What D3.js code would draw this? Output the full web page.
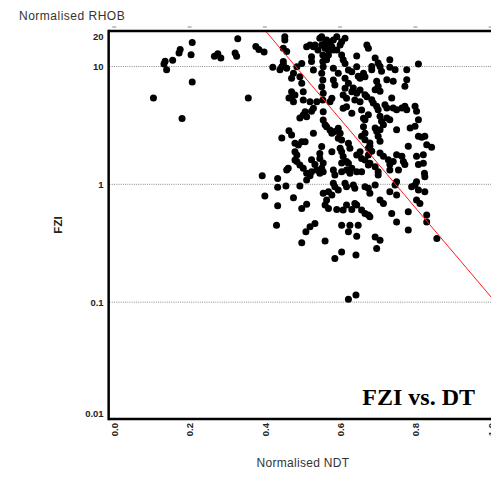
<!DOCTYPE html>
<html>
<head>
<meta charset="utf-8">
<script src="https://cdn.jsdelivr.net/npm/d3@7"></script>
<style>
  html, body { margin: 0; padding: 0; background: #fff; overflow: hidden; }
  svg { display: block; }
</style>
</head>
<body>
<svg id="chart" width="491" height="481"></svg>
<script>
// ---------------- data ----------------
const xTickValues = [0.0, 0.2, 0.4, 0.6, 0.8, 1.0];
const xTickLabels = ["0.0", "0.2", "0.4", "0.6", "0.8", "1.0"];
const yTickValues = [20, 10, 1, 0.1, 0.01];
const yTickLabels = ["20", "10", "1", "0.1", "0.01"];
const yGridValues = [10, 1, 0.1];

// Normalised NDT (x) and FZI (y) of each sample
const ndt = [
  0.207,0.328,0.175,0.172,0.204,0.155,0.135,0.132,0.139,0.275,0.283,0.266,0.321,0.325,0.376,0.384,0.398,0.421,0.440,0.449,
  0.207,0.104,0.356,0.180,0.445,0.464,0.464,
  0.453,0.453,0.449,0.458,0.449,0.445,0.458,0.476,0.471,0.471,0.480,0.471,0.498,0.493,0.498,0.502,0.511,0.520,0.529,0.533,
  0.524,0.524,0.529,0.546,0.551,0.564,0.573,0.582,0.578,0.569,0.582,0.604,0.600,0.554,0.554,0.555,0.551,0.554,0.551,0.555,
  0.554,0.569,0.564,0.604,0.608,0.613,0.582,0.595,0.582,0.586,0.622,0.631,0.644,0.653,0.613,0.622,0.613,0.608,0.617,0.631,
  0.644,0.653,0.639,0.653,0.671,0.675,0.662,0.666,0.671,0.578,0.573,0.538,0.502,0.644,0.560,0.551,0.591,0.613,
  0.560,0.591,0.541,0.485,
  0.693,0.701,0.732,0.808,0.684,0.684,0.706,0.710,0.732,0.746,0.777,0.777,0.772,0.724,0.741,0.697,0.701,0.693,0.706,0.684,
  0.688,0.697,0.701,0.719,0.724,0.737,0.741,0.750,0.764,0.772,0.777,0.799,0.803,0.635,0.648,0.666,
  0.476,0.520,0.529,0.507,0.502,0.511,0.555,0.555,0.608,0.617,0.631,0.657,0.662,0.662,0.666,0.564,0.573,0.578,0.586,0.595,
  0.600,0.595,0.604,0.529,0.471,0.480,0.489,0.498,0.507,0.480,0.485,0.480,0.485,0.458,0.462,0.551,0.546,0.546,0.578,0.600,
  0.604,0.622,0.626,0.608,0.617,0.644,0.653,0.657,0.666,0.675,0.675,0.493,0.502,0.511,0.524,0.538,0.551,0.555,0.582,0.604,
  0.617,0.631,0.657,0.679,0.524,0.533,0.604,0.524,0.493,0.560,0.555,
  0.666,0.675,0.706,0.710,0.715,0.724,0.732,0.750,0.786,0.799,0.693,0.697,0.706,0.808,0.657,0.666,0.679,0.701,0.706,0.808,
  0.817,0.825,0.830,0.843,0.781,0.679,0.684,0.706,0.715,0.728,0.732,0.750,0.764,0.772,0.803,0.808,0.821,
  0.393,0.400,0.434,0.434,0.456,0.434,0.431,0.520,0.511,0.493,0.476,0.511,0.498,0.533,0.520,0.509,0.498,0.546,0.586,0.626,
  0.622,0.582,0.586,0.595,0.555,0.569,0.578,0.564,0.560,0.569,0.613,0.617,0.635,0.639,0.666,0.591,0.608,0.617,0.631,0.639,
  0.657,0.666,0.675,0.604,0.626,0.648,0.622,0.644,0.560,0.604,0.586,0.642,0.622,0.642,0.675,
  0.693,0.701,0.701,0.741,0.732,0.755,0.768,0.821,0.824,0.825,0.644,0.675,0.693,0.679,0.750,0.746,0.732,0.750,0.790,0.799,
  0.803,0.808,0.825,0.644,0.706,0.715,0.803,0.812,0.781,0.737,0.679,0.750,0.830,0.830,0.781,0.693,0.706,0.857,0.697
];
const fzi = [
  16.0,17.2,13.9,13.0,12.6,11.3,11.1,10.5,9.39,12.8,11.8,12.2,13.0,12.2,14.8,13.9,13.3,9.84,9.39,10.4,
  7.39,5.40,5.40,3.61,2.47,5.40,2.85,
  17.9,16.8,14.3,13.4,11.0,9.96,9.65,8.76,7.94,6.11,5.73,5.37,10.6,8.19,7.20,6.11,14.7,15.2,14.7,15.2,
  12.1,11.0,9.34,17.4,15.2,16.8,15.7,16.8,14.7,13.8,13.8,16.2,15.2,12.5,11.0,9.96,8.76,7.68,6.74,5.92,
  5.20,12.5,11.4,12.5,11.4,10.6,9.65,8.76,7.68,6.97,9.34,9.03,9.96,7.94,7.94,7.20,6.53,5.73,5.37,6.11,
  5.92,6.32,5.20,5.02,15.2,14.3,8.76,8.19,5.54,5.37,5.02,5.02,5.20,12.3,14.3,17.9,17.9,17.4,
  15.8,13.8,13.8,9.96,
  11.8,10.7,11.4,10.5,10.0,9.39,10.0,9.11,9.84,9.39,9.39,7.73,6.79,7.73,7.49,7.49,6.79,6.36,6.16,5.23,
  4.90,4.59,4.30,4.74,4.44,5.40,4.44,4.30,4.44,4.59,4.30,4.59,4.17,6.57,8.26,5.76,
  5.02,5.02,4.42,4.13,3.88,3.75,4.13,3.52,4.42,4.56,4.01,4.27,3.63,3.08,2.71,3.08,2.89,2.71,2.80,2.99,
  2.71,2.46,2.38,2.71,2.62,2.23,2.16,2.30,2.30,1.89,1.77,1.61,1.56,1.32,1.37,2.09,1.83,1.66,1.89,2.02,
  1.89,2.23,2.02,1.72,1.56,1.77,1.89,1.66,1.61,1.77,2.02,1.46,1.37,1.24,1.28,1.32,1.37,1.28,1.32,1.28,
  1.32,1.37,1.28,1.51,1.62,1.47,1.52,4.17,3.65,3.21,1.52,
  3.53,3.90,3.78,3.43,3.21,3.65,3.53,2.91,3.01,3.11,3.01,2.82,2.91,3.53,2.56,2.39,2.24,2.56,2.32,2.56,
  2.51,2.56,2.17,2.06,2.10,2.10,1.91,1.84,1.73,1.62,1.47,1.78,1.73,1.47,1.73,1.47,1.78,
  1.18,0.796,1.12,0.943,0.967,0.657,0.450,1.18,1.09,0.967,0.770,0.679,0.624,0.466,0.436,0.395,0.319,1.24,1.20,1.24,
  1.51,1.02,0.954,0.895,0.839,0.865,0.811,0.736,0.666,0.624,1.02,0.954,0.986,0.925,0.954,0.612,0.604,0.666,0.612,0.688,
  0.604,0.566,0.548,0.450,0.450,0.450,0.395,0.363,0.331,0.267,0.235,0.251,0.106,0.115,1.46,
  1.41,1.28,1.20,1.56,1.32,1.32,1.56,1.51,1.24,1.16,1.28,0.925,0.986,0.839,1.05,0.986,0.865,0.811,0.954,0.986,
  1.05,0.895,0.865,0.666,0.736,0.688,0.736,0.688,0.584,0.566,0.530,0.480,0.548,0.480,0.409,0.358,0.336,0.347,0.286
];

// red trend line (two end points)
const trendNDT = [0.403, 1.03];
const trendFZI = [19.8, 0.086];

// ---------------- drawing ----------------
const svg = d3.select("#chart");
const x = d3.scaleLinear().domain([0, 1]).range([114.3, 490.7]);
const y = d3.scaleLog().domain([0.01, 20]).range([420, 31]);

const plotLeft = x(-0.015), plotRight = x(1.04);
const plotTop = y(20), plotBottom = 419;

svg.append("defs").append("clipPath").attr("id", "clip")
  .append("rect").attr("x", plotLeft).attr("y", plotTop)
  .attr("width", plotRight - plotLeft).attr("height", plotBottom - plotTop);

// grid lines
svg.append("g").selectAll("line").data(yGridValues).join("line")
  .attr("x1", plotLeft + 1).attr("x2", plotRight)
  .attr("y1", d => y(d)).attr("y2", d => y(d))
  .attr("stroke", "#8a8a8a").attr("stroke-width", 1).attr("stroke-dasharray", "1,1.2");

// points
svg.append("g").attr("clip-path", "url(#clip)")
  .selectAll("circle").data(ndt.map((v, i) => [v, fzi[i]])).join("circle")
  .attr("cx", d => x(d[0])).attr("cy", d => y(d[1])).attr("r", 3.5)
  .attr("fill", "#000");

// trend line
svg.append("path").attr("clip-path", "url(#clip)")
  .datum(trendNDT.map((v, i) => [v, trendFZI[i]]))
  .attr("d", d3.line().x(d => x(d[0])).y(d => y(d[1])))
  .attr("fill", "none").attr("stroke", "#ff1a1a").attr("stroke-width", 1);

// frame
const frame = svg.append("g").attr("stroke", "#000").attr("stroke-width", 2.5).attr("fill", "none");
frame.append("line").attr("x1", plotLeft).attr("x2", plotRight).attr("y1", plotTop).attr("y2", plotTop);
frame.append("line").attr("x1", plotLeft).attr("x2", plotRight).attr("y1", plotBottom).attr("y2", plotBottom);
frame.append("line").attr("x1", plotLeft).attr("x2", plotLeft).attr("y1", plotTop - 1.2).attr("y2", plotBottom + 1.2);

// top tick dashes
svg.append("g").selectAll("line").data(xTickValues).join("line")
  .attr("x1", d => x(d) - 2).attr("x2", d => x(d) + 2)
  .attr("y1", 27).attr("y2", 27)
  .attr("stroke", "#888").attr("stroke-width", 1);

// y axis
const yAxis = d3.axisLeft(y).tickValues(yTickValues)
  .tickFormat((d, i) => yTickLabels[i]).tickSize(0).tickPadding(4);
const gy = svg.append("g").attr("transform", `translate(${plotLeft - 1},0)`).call(yAxis);
gy.select(".domain").remove();
gy.selectAll("text")
  .attr("font-family", "Liberation Sans, Arial, sans-serif")
  .attr("font-size", 9.5).attr("font-weight", "bold").attr("fill", "#222")
  .attr("dy", (d) => d === 20 ? "0.85em" : d === 0.01 ? "-0.4em" : "0.32em");

// x axis
const xAxis = d3.axisBottom(x).tickValues(xTickValues)
  .tickFormat((d, i) => xTickLabels[i]).tickSize(0);
const gx = svg.append("g").attr("transform", `translate(0,${plotBottom})`).call(xAxis);
gx.select(".domain").remove();
gx.selectAll("text")
  .attr("font-family", "Liberation Sans, Arial, sans-serif")
  .attr("font-size", 9.5).attr("font-weight", "bold").attr("fill", "#222")
  .attr("transform", "rotate(-90)")
  .attr("x", -4).attr("y", 0).attr("dy", "0.35em")
  .style("text-anchor", "end");

// titles
svg.append("text").attr("x", 19).attr("y", 20)
  .attr("font-family", "Liberation Sans, Arial, sans-serif").attr("font-size", 12)
  .attr("letter-spacing", 0.5).attr("fill", "#333").text("Normalised RHOB");

svg.append("text").attr("x", 303).attr("y", 467).attr("text-anchor", "middle")
  .attr("font-family", "Liberation Sans, Arial, sans-serif").attr("font-size", 12)
  .attr("letter-spacing", 0.3).attr("fill", "#333").text("Normalised NDT");

svg.append("text").attr("transform", "translate(62,225) rotate(-90)").attr("text-anchor", "middle")
  .attr("font-family", "Liberation Sans, Arial, sans-serif").attr("font-size", 11.5)
  .attr("font-weight", "bold").attr("fill", "#222").text("FZI");

svg.append("text").attr("x", 475).attr("y", 405).attr("text-anchor", "end")
  .attr("font-family", "Liberation Serif, Times New Roman, serif").attr("font-size", 24)
  .attr("font-weight", "bold").attr("fill", "#000").text("FZI vs. DT");
</script>
</body>
</html>
